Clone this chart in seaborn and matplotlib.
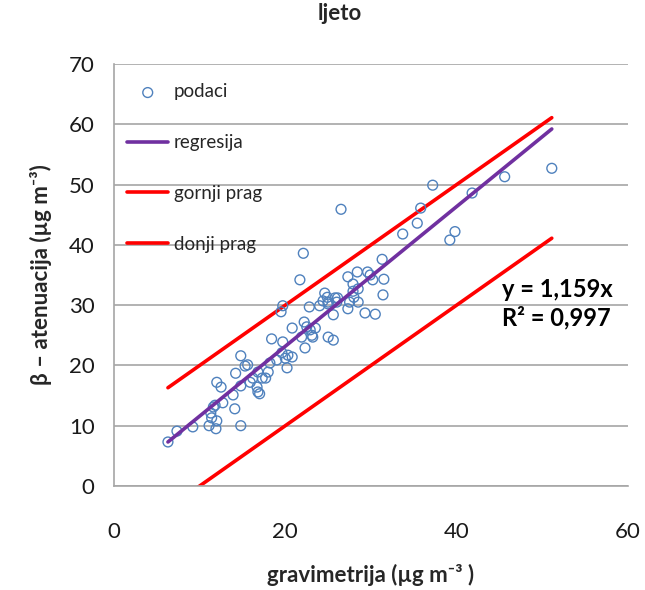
import numpy as np
import pandas as pd
import matplotlib
matplotlib.use("Agg")
import matplotlib.pyplot as plt
import seaborn as sns

# gravimetric vs beta-attenuation values
grav = [6.3, 7.35, 9.2, 11.1, 11.9, 12.0, 11.4, 11.3, 11.6, 11.8, 12.7, 14.1, 14.8,
        13.9, 14.8, 12.0, 12.5, 14.2, 14.8, 15.3, 15.6, 15.9, 16.7, 16.8, 17.0, 16.2,
        16.8, 17.3, 17.7, 18.0, 18.2, 18.4, 19.0, 19.6, 20.3, 20.8, 20.0, 20.2, 19.7,
        19.7, 19.5, 20.8, 21.9, 22.3, 21.7, 22.1, 22.2, 22.5, 22.9, 23.5, 23.1, 23.2,
        22.8, 24.0, 25.0, 24.6, 24.9, 24.4, 25.0, 25.8, 26.1, 26.0, 25.0, 25.6, 25.6,
        26.5, 27.3, 27.3, 27.9, 28.5, 28.4, 29.6, 29.9, 27.9, 28.0, 28.5, 27.5, 29.3,
        30.5, 30.2, 31.5, 31.4, 31.3, 33.7, 35.4, 35.8, 37.2, 39.2, 39.8, 41.8, 45.6,
        51.1]
beta = [7.3, 9.1, 9.8, 10.0, 9.5, 10.8, 11.3, 12.1, 13.1, 13.4, 13.8, 12.8, 10.0,
        15.1, 16.6, 17.2, 16.4, 18.7, 21.6, 19.9, 20.1, 17.2, 16.4, 15.6, 15.3, 17.9,
        18.9, 17.9, 17.9, 18.9, 20.4, 24.4, 20.9, 22.1, 21.7, 21.4, 21.2, 19.6, 23.9,
        29.9, 28.9, 26.2, 24.7, 22.9, 34.2, 38.6, 27.2, 26.4, 25.9, 26.2, 25.0, 24.7,
        29.7, 29.9, 30.2, 32.0, 31.3, 30.7, 30.5, 31.2, 31.2, 30.5, 24.7, 24.2, 28.4,
        45.9, 29.4, 34.7, 33.5, 32.7, 35.5, 35.5, 35.0, 32.3, 31.3, 30.5, 30.5, 28.7,
        28.5, 34.2, 34.3, 31.7, 37.6, 41.8, 43.6, 46.1, 49.9, 40.8, 42.2, 48.6, 51.3,
        52.7]

slope = 1.159
r2 = 0.997
line_x = [6.3, 51.1]
band = 10

df = pd.DataFrame({"grav": grav, "beta": beta})
lines = pd.DataFrame({"x": line_x})
lines["reg"] = slope * lines["x"]
lines["upper"] = lines["x"] + band
lines["lower"] = lines["x"] - band

sns.set_theme(style="white")
plt.rcParams["font.family"] = ["Lato", "DejaVu Sans"]

fig = plt.figure(figsize=(6.45, 5.9), dpi=100)
ax = fig.add_axes([0.1767, 0.1763, 0.797, 0.7152])

sns.scatterplot(data=df, x="grav", y="beta", ax=ax, marker="o", s=50,
                facecolors="none", edgecolor="#4F81BD", linewidth=1.0,
                label="podaci", zorder=3)
sns.lineplot(data=lines, x="x", y="reg", ax=ax, color="#7030A0", lw=2.6,
             label="regresija", zorder=4)
sns.lineplot(data=lines, x="x", y="upper", ax=ax, color="#FF0000", lw=2.6,
             label="gornji prag", zorder=2)
sns.lineplot(data=lines, x="x", y="lower", ax=ax, color="#FF0000", lw=2.6,
             label="donji prag", zorder=2)

ax.set_xlim(0, 60)
ax.set_ylim(0, 70)
ax.set_xticks([0, 20, 40, 60])
ax.set_yticks(range(0, 71, 10))
ax.yaxis.grid(True, color="#A6A6A6", lw=1.2)
ax.xaxis.grid(False)
for side in ["top", "right"]:
    ax.spines[side].set_visible(False)
for side in ["left", "bottom"]:
    ax.spines[side].set_color("#A6A6A6")
    ax.spines[side].set_linewidth(1.2)
ax.tick_params(axis="both", which="both", direction="out", length=6, width=1.2,
               color="#A6A6A6", labelsize=16, labelcolor="#1a1a1a")
ax.tick_params(axis="y", pad=8)
ax.tick_params(axis="x", pad=20)

ax.set_xlabel("gravimetrija (µg m⁻³ )", fontsize=16, fontweight="bold", labelpad=16)
ax.set_ylabel("β – atenuacija (µg m⁻³)", fontsize=16, fontweight="bold", labelpad=12)
fig.suptitle("ljeto", x=0.527, y=0.995, fontsize=16, fontweight="bold", va="top")

ax.text(0.755, 0.465, f"y = {slope:.3f}x".replace(".", ","), transform=ax.transAxes,
        fontsize=17, fontweight="bold", color="black", va="center")
ax.text(0.755, 0.40, f"R² = {r2:.3f}".replace(".", ","), transform=ax.transAxes,
        fontsize=17, fontweight="bold", color="black", va="center")

leg = ax.legend(loc="upper left", bbox_to_anchor=(0.0, 0.985), frameon=False,
                fontsize=13.5, labelspacing=1.8, handlelength=2.2, handletextpad=0.3,
                borderaxespad=0.3)

fig.savefig("out.png", dpi=100)
